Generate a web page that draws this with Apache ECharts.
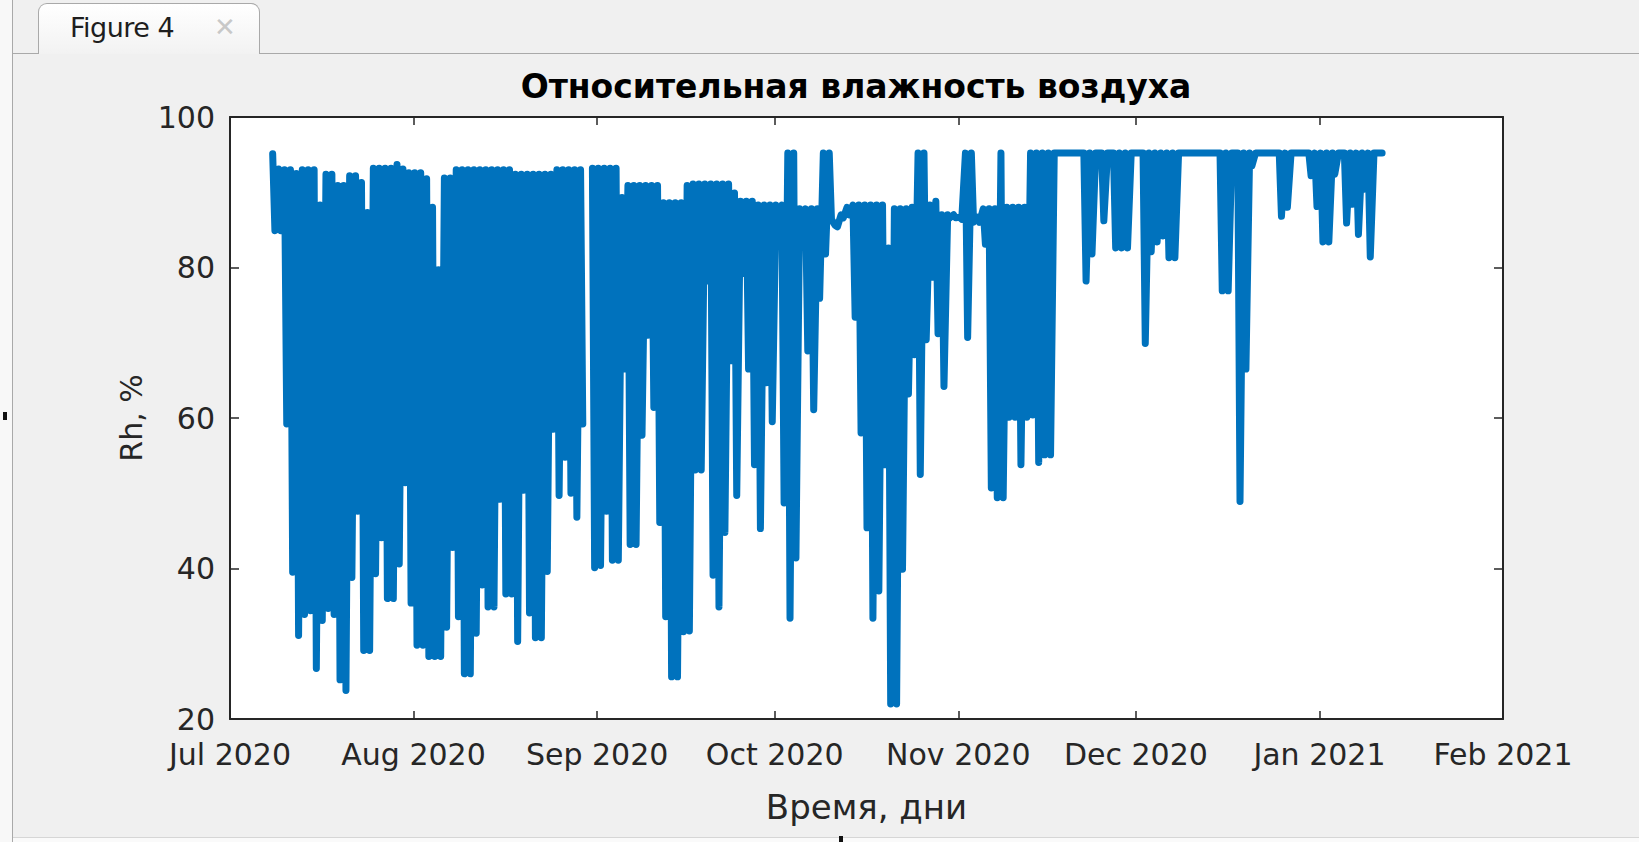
<!DOCTYPE html>
<html>
<head>
<meta charset="utf-8">
<title>Относительная влажность воздуха</title>
<script src="https://cdn.jsdelivr.net/npm/echarts@6/dist/echarts.min.js"></script>
<style>
  html, body { margin: 0; padding: 0; width: 1639px; height: 842px; overflow: hidden; background: #f0f0f0; font-family: "DejaVu Sans", sans-serif; }
  #chart { position: absolute; left: 0; top: 0; width: 1639px; height: 842px; }
  .edge { position: absolute; left: 0; top: 0; width: 12px; height: 842px; background: #f8f8f8; }
  .frame-left { position: absolute; left: 12px; top: 0; width: 1px; height: 842px; background: #a9a9a9; }
  .tabline { position: absolute; top: 53px; height: 1px; background: #a9a9a9; }
  .tab { position: absolute; left: 38px; top: 3px; width: 222px; height: 51px; box-sizing: border-box;
         border: 1px solid #a9a9a9; border-bottom: none; border-radius: 9px 9px 0 0;
         background: linear-gradient(#ffffff, #f2f2f2); }
  .tab-title { position: absolute; left: 31px; top: 8px; font-size: 27px; letter-spacing: -0.5px; color: #1e1e1e; }
  .tab-close { position: absolute; left: 175px; top: 8px; font-size: 26px; font-weight: bold; color: #c8c8c8; }
  .status { position: absolute; left: 13px; top: 837px; width: 1626px; height: 5px; background: #fafafa; border-top: 1px solid #d6d6d6; }
  .grip { position: absolute; background: #111; }
</style>
</head>
<body>
<div class="edge"></div>
<div class="frame-left"></div>
<div class="tabline" style="left:13px;width:25px"></div>
<div class="tabline" style="left:260px;width:1379px"></div>
<div class="tab"><span class="tab-title">Figure 4</span><span class="tab-close">✕</span></div>
<div class="status"></div>
<div class="grip" style="left:3px;top:412px;width:4px;height:8px"></div>
<div class="grip" style="left:839px;top:836px;width:4px;height:6px"></div>
<div id="chart"></div>
<script>
// First day of the record (year, month index, day), local time
const startDay = [2020, 6, 8];

// Daily maximum of relative humidity, %, from 8 Jul 2020 (null = no data)
const dailyMax = [
  95.1, 93.1, 93.0, 93.0, 92.5, 93.0, 93.0, 93.0, 88.3, 92.4,
  92.4, 90.9, 90.9, 92.2, 92.2, 91.3, 87.3, 93.2, 93.2, 93.2,
  93.2, 93.7, 93.1, 92.6, 92.6, 92.6, 91.8, 88.0, 79.7, 91.9,
  91.9, 93.0, 93.0, 93.0, 93.0, 93.0, 93.0, 93.0, 93.0, 93.0,
  93.0, 92.4, 92.4, 92.4, 92.4, 92.4, 92.4, 92.4, 93.0, 93.0,
  93.0, 93.0, 93.0, null, 93.2, 93.2, 93.2, 93.2, 93.2, 89.3,
  90.9, 90.9, 90.9, 90.9, 90.9, 90.9, 88.6, 88.6, 88.6, 88.6,
  90.9, 91.1, 91.1, 91.1, 91.1, 91.1, 91.1, 91.1, 89.9, 88.8,
  88.8, 88.8, 88.3, 88.3, 88.3, 88.3, 88.3, 95.2, 95.2, 87.8,
  87.8, 87.8, 87.8, 95.2, 95.2, 85.6, 87.0, 88.0, 88.3, 88.3,
  88.3, 88.3, 88.3, 88.3, 82.6, 87.8, 87.8, 87.8, 88.0, 95.2,
  95.2, 88.3, 88.8, 87.0, 87.0, 87.0, 86.7, 95.2, 95.2, 86.7,
  87.8, 87.8, 87.8, 95.2, 88.0, 88.0, 88.0, 88.0, 95.2, 95.2,
  95.2, 95.2, 95.2, 95.2, 95.2, 95.2, 95.2, 95.2, 95.2, 95.2,
  95.2, 95.2, 95.2, 95.2, 95.2, 95.2, 95.2, 95.2, 95.2, 95.2,
  95.2, 95.2, 95.2, 95.2, 95.2, 95.2, 95.2, 95.2, 95.2, 95.2,
  95.2, 95.2, 95.2, 95.2, 95.2, 95.2, 95.2, 95.2, 95.2, 95.2,
  95.2, 95.2, 95.2, 95.2, 95.2, 95.2, 95.2, 95.2, 95.2, 95.2,
  95.2, 95.2, 95.2, 95.2, 95.2, 95.2, 95.2, 95.2
];

// Daily minimum of relative humidity, %, same days
const dailyMin = [
  84.9, 84.9, 59.2, 39.5, 31.1, 33.9, 34.4, 26.7, 33.1, 34.7,
  33.9, 25.2, 23.8, 38.8, 47.6, 29.1, 29.1, 39.3, 44.1, 36.0,
  36.0, 40.6, 51.4, 35.4, 29.8, 29.8, 28.3, 28.3, 28.3, 32.2,
  42.8, 33.6, 26.0, 26.0, 31.4, 37.8, 34.9, 34.9, 49.2, 36.6,
  36.6, 30.3, 50.4, 34.1, 30.8, 30.8, 39.6, 58.5, 49.7, 54.8,
  50.0, 46.8, 59.2, null, 40.1, 40.4, 47.6, 41.1, 41.1, 66.5,
  43.2, 43.2, 57.7, 71.0, 61.4, 46.1, 33.6, 25.6, 25.6, 31.6,
  31.7, 53.1, 53.1, 78.2, 39.1, 34.9, 44.8, 67.6, 49.7, 79.2,
  66.5, 53.8, 45.3, 64.7, 59.5, 87.0, 48.7, 33.4, 41.4, 85.4,
  68.9, 61.1, 75.9, 81.8, 86.4, 85.4, 86.6, 87.0, 73.4, 58.0,
  45.4, 33.4, 37.0, 53.8, 22.0, 22.0, 39.9, 63.2, 68.4, 52.5,
  70.4, 78.7, 71.2, 64.2, 86.6, 86.6, 86.4, 70.7, 86.0, 86.0,
  83.1, 50.7, 49.4, 49.4, 60.1, 60.1, 53.8, 60.1, 60.4, 54.1,
  55.1, 55.1, 95.2, 95.2, 95.2, 95.2, 95.2, 78.2, 81.8, 95.2,
  86.2, 95.2, 82.6, 82.6, 82.6, 95.2, 95.2, 69.9, 82.1, 83.4,
  84.2, 81.3, 81.3, 95.2, 95.2, 95.2, 95.2, 95.2, 95.2, 95.2,
  76.9, 76.9, 95.2, 48.9, 66.5, 93.5, 95.2, 95.2, 95.2, 95.2,
  86.8, 88.0, 95.2, 95.2, 95.2, 92.2, 88.1, 83.4, 83.4, 92.4,
  95.2, 85.9, 88.4, 84.4, 90.4, 81.4, 95.2, 95.2
];

// Month ticks of the time axis (year, month index) and their labels
const tickMonths = [[2020, 6], [2020, 7], [2020, 8], [2020, 9], [2020, 10], [2020, 11], [2021, 0], [2021, 1]];
const tickLabels = ['Jul 2020', 'Aug 2020', 'Sep 2020', 'Oct 2020', 'Nov 2020', 'Dec 2020', 'Jan 2021', 'Feb 2021'];

// Humidity axis
const yMin = 20, yMax = 100, yStep = 20;

const HOUR = 3600 * 1000;
const tickValues = tickMonths.map(([y, m]) => new Date(y, m, 1).getTime());

// Night maximum (~05:00) and afternoon minimum (~14:00) of every day
const points = [];
for (let i = 0; i < dailyMax.length; i++) {
  const dayStart = new Date(startDay[0], startDay[1], startDay[2] + i).getTime();
  if (dailyMax[i] === null) {
    points.push([dayStart + 12 * HOUR, '-']);
    continue;
  }
  points.push([dayStart + 5 * HOUR, dailyMax[i]]);
  points.push([dayStart + 14 * HOUR, dailyMin[i]]);
}

const ink = '#262626';
const font = 'DejaVu Sans';

function monthLabel(v) {
  let best = 0;
  for (let k = 1; k < tickValues.length; k++) {
    if (Math.abs(tickValues[k] - v) < Math.abs(tickValues[best] - v)) best = k;
  }
  return tickLabels[best];
}

// Time runs on a numeric axis (ms since epoch) with ticks on the first day of each month
const xBase = {
  type: 'value',
  min: tickValues[0],
  max: tickValues[tickValues.length - 1],
  splitLine: { show: false },
  axisLine: { show: true, onZero: false, lineStyle: { color: ink, width: 2 } },
  axisTick: { show: true, inside: true, length: 8, customValues: tickValues, lineStyle: { color: ink, width: 1.5 } }
};
const yBase = {
  type: 'value',
  min: yMin, max: yMax, interval: yStep,
  splitLine: { show: false },
  axisLine: { show: true, onZero: false, lineStyle: { color: ink, width: 2 } },
  axisTick: { show: true, inside: true, length: 9, lineStyle: { color: ink, width: 1.5 } }
};

const chart = echarts.init(document.getElementById('chart'), null, { renderer: 'svg' });
chart.setOption({
  animation: false,
  backgroundColor: 'transparent',
  title: {
    text: 'Относительная влажность воздуха',
    left: 851, top: 65, textAlign: 'center',
    textStyle: { fontFamily: font, fontWeight: 'bold', fontSize: 33, color: '#000' }
  },
  grid: { left: 230, right: 136, top: 117, bottom: 123, show: true, backgroundColor: '#ffffff', borderWidth: 0 },
  xAxis: [
    Object.assign({}, xBase, {
      position: 'bottom',
      axisLabel: {
        customValues: tickValues, formatter: monthLabel, showMinLabel: true, showMaxLabel: true,
        fontFamily: font, fontSize: 30, color: ink, margin: 20
      },
      name: 'Время, дни', nameLocation: 'middle', nameGap: 71,
      nameTextStyle: { fontFamily: font, fontSize: 34, color: ink }
    }),
    Object.assign({}, xBase, { position: 'top', axisLabel: { show: false } })
  ],
  yAxis: [
    Object.assign({}, yBase, {
      position: 'left',
      axisLabel: { fontFamily: font, fontSize: 30, color: ink, margin: 15 },
      name: 'Rh, %', nameLocation: 'middle', nameGap: 78, nameRotate: 90,
      nameTextStyle: { fontFamily: font, fontSize: 30, color: ink }
    }),
    Object.assign({}, yBase, { position: 'right', axisLabel: { show: false } })
  ],
  series: [{
    type: 'line',
    xAxisIndex: 0, yAxisIndex: 0,
    data: points,
    showSymbol: false,
    connectNulls: false,
    clip: true,
    lineStyle: { color: '#0072BD', width: 7, cap: 'round', join: 'round' }
  }]
});
</script>
</body>
</html>
